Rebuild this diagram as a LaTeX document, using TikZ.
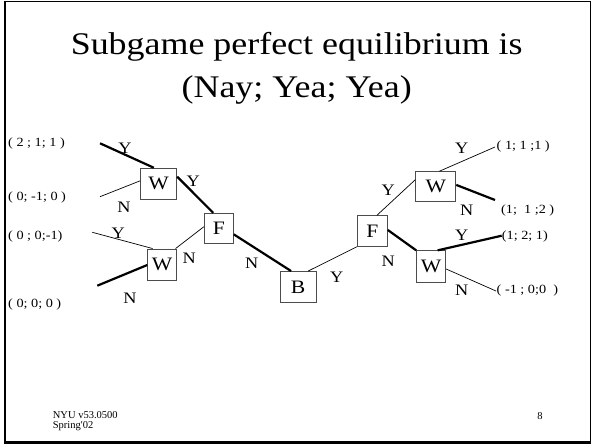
\documentclass[tikz,border=0pt]{standalone}
\usepackage{fontspec}
\setmainfont[FakeStretch=1.14]{Liberation Serif}
\newfontfamily\footfont{Liberation Serif}
\begin{document}
\begin{tikzpicture}[x=1pt,y=-1pt,
  box/.style={draw=black!70,line width=0.9pt,fill=white,inner sep=0pt,font=\fontsize{19}{19}\selectfont},
  thin/.style={line width=0.7pt},
  thick/.style={line width=2.2pt},
  lab/.style={font=\fontsize{16}{16}\selectfont,inner sep=0pt},
  pay/.style={font=\fontsize{12.5}{12.5}\selectfont,inner sep=0pt,anchor=west},
  foot/.style={font=\footfont\fontsize{10.5}{10.5}\selectfont,inner sep=0pt,anchor=base west}]
\useasboundingbox (0,0) rectangle (592,444);
% frame
\draw[line width=1.3pt] (5.5,1.7) rectangle (590.3,442);
\draw[line width=2.5pt] (5,1) -- (5,443) -- (590.8,443);
% title
\node[font=\fontsize{31.5}{31.5}\selectfont,anchor=base,inner sep=0pt] (t1) at (296.7,55) {Subgame perfect equilibrium is};
\node[font=\fontsize{31.5}{31.5}\selectfont,anchor=base,inner sep=0pt] (t2) at (296.7,97.3) {(Nay; Yea; Yea)};
% leaves
\coordinate (l1) at (100,143.3);
\coordinate (l2) at (100,196.7);
\coordinate (l3) at (92.3,232.3);
\coordinate (l4) at (97.3,285.7);
\coordinate (r1) at (495,147);
\coordinate (r2) at (495,200);
\coordinate (r3) at (501.7,235.7);
\coordinate (r4) at (496,291);
% boxes
\node[box,minimum width=36pt,minimum height=31pt] (W1) at (158.7,183.7) {W};
\node[box,minimum width=29pt,minimum height=30pt] (F1) at (218.8,228.3) {F};
\node[box,minimum width=29pt,minimum height=31pt] (W2) at (162.2,264.5) {W};
\node[box,minimum width=36pt,minimum height=31pt] (B) at (298.2,287) {B};
\node[box,minimum width=30pt,minimum height=31pt] (F2) at (372.3,231.3) {F};
\node[box,minimum width=40pt,minimum height=30pt] (W3) at (435.8,186.7) {W};
\node[box,minimum width=29pt,minimum height=32pt] (W4) at (431,266.8) {W};
% edges
\draw[thick] (l1) -- (W1.107);
\draw[thin] (l2) -- (W1.171.5);
\draw[thick] (W1.21) -- (F1.110);
\draw[thin] (l3) -- (W2.121.5);
\draw[thick] (l4) -- (W2.182);
\draw[thin] (W2.50.4) -- (F1.174);
\draw[thick] (F1.-22.5) -- (B.114);
\draw[thin] (B.58.7) -- (F2.225.8);
\draw[thin] (F2.74) -- (W3.161.3);
\draw[thick] (F2.5) -- (W4.132);
\draw[thin] (W3.77) -- (r1);
\draw[thick] (W3.5) -- (r2);
\draw[thick] (W4.68) -- (r3);
\draw[thin] (W4.-8.5) -- (r4);
% edge labels
\node[lab] (y1) at (125,148.3) {Y};
\node[lab] (n1) at (124,207.3) {N};
\node[lab] (y2) at (193.3,181.7) {Y};
\node[lab] (y3) at (118.3,233.3) {Y};
\node[lab] (n2) at (189.3,258.3) {N};
\node[lab] (n3) at (130,298.3) {N};
\node[lab] (n4) at (251.7,263.3) {N};
\node[lab] (y4) at (336.7,277.5) {Y};
\node[lab] (y5) at (388.3,190) {Y};
\node[lab] (n5) at (388.3,261.7) {N};
\node[lab] (y6) at (461.7,148.3) {Y};
\node[lab] (n6) at (466.7,210) {N};
\node[lab] (y7) at (461.7,235) {Y};
\node[lab] (n7) at (461.7,290) {N};
% payoffs
\node[pay] (p1) at (8,143.3) {( 2 ; 1; 1 )};
\node[pay] (p2) at (8,197.3) {( 0; -1; 0 )};
\node[pay] (p3) at (8,236.7) {( 0 ; 0;-1)};
\node[pay] (p4) at (8,304) {( 0; 0; 0 )};
\node[pay] (q1) at (496.5,146.7) {( 1; 1 ;1 )};
\node[pay] (q2) at (501,210) {(1;\ \ 1 ;2 )};
\node[pay] (q3) at (501.7,236) {(1; 2; 1)};
\node[pay] (q4) at (496.5,290.7) {( -1 ; 0;0\ \ )};
% footer
\node[foot] (f1) at (52.7,418.3) {NYU v53.0500};
\node[foot] (f2) at (52.7,428.3) {Spring'02};
\node[foot,anchor=base] (pg) at (540,419) {8};
\end{tikzpicture}
\end{document}
